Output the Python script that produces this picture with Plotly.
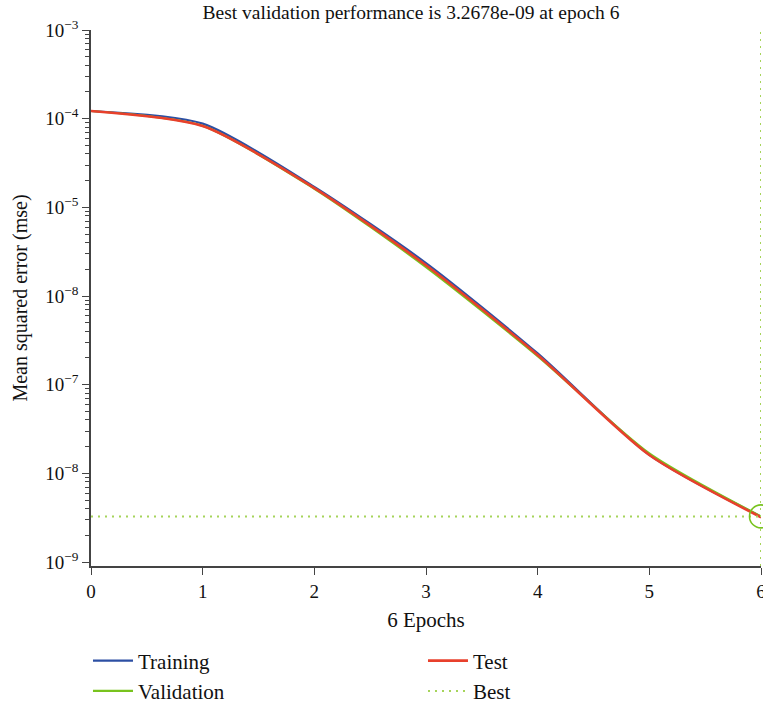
import plotly.graph_objects as go

epochs = [0, 1, 2, 3, 4, 5, 6]
training = [1.22e-4, 8.8e-5, 1.70e-5, 2.35e-6, 2.25e-7, 1.62e-8, 3.25e-9]
validation = [1.22e-4, 8.3e-5, 1.62e-5, 2.12e-6, 2.10e-7, 1.68e-8, 3.2678e-9]
test = [1.22e-4, 8.26e-5, 1.65e-5, 2.22e-6, 2.16e-7, 1.61e-8, 3.2e-9]
best_epoch = 6
best_value = 3.2678e-9

ytick_vals = [1e-9, 1e-8, 1e-7, 1e-6, 1e-5, 1e-4, 1e-3]
ytick_text = ["10<sup>−9</sup>", "10<sup>−8</sup>", "10<sup>−7</sup>", "10<sup>−8</sup>",
              "10<sup>−5</sup>", "10<sup>−4</sup>", "10<sup>−3</sup>"]
minor_vals = [k * 10.0 ** e for e in range(-9, -3) for k in range(2, 10)]

FONT = "Liberation Serif"
BLUE = "#2c4fa3"
GREEN = "#78c31e"
RED = "#e8402c"
BEST = "#a6d45a"
SMOOTH = 0.7

fig = go.Figure()
fig.add_trace(go.Scatter(x=epochs, y=training, mode="lines", name="Training",
                         line=dict(color=BLUE, width=2.2, shape="spline", smoothing=SMOOTH),
                         legend="legend"))
fig.add_trace(go.Scatter(x=epochs, y=validation, mode="lines", name="Validation",
                         line=dict(color=GREEN, width=2.2, shape="spline", smoothing=SMOOTH),
                         legend="legend"))
fig.add_trace(go.Scatter(x=epochs, y=test, mode="lines", name="Test",
                         line=dict(color=RED, width=2.6, shape="spline", smoothing=SMOOTH),
                         legend="legend2"))
fig.add_trace(go.Scatter(x=[epochs[0], best_epoch], y=[best_value, best_value], mode="lines",
                         name="Best", line=dict(color=BEST, width=2, dash="2px,5px"),
                         legend="legend2"))
fig.add_shape(type="line", x0=best_epoch, x1=best_epoch, xref="x", y0=0, y1=1, yref="y domain",
              line=dict(color=BEST, width=2, dash="2px,5px"))
fig.add_trace(go.Scatter(x=[best_epoch], y=[best_value], mode="markers", showlegend=False,
                         marker=dict(symbol="circle-open", size=23, color=GREEN,
                                     line=dict(width=1.6, color=GREEN)),
                         cliponaxis=False))

fig.update_layout(
    width=763, height=712,
    margin=dict(l=91, r=2, t=30, b=146, autoexpand=False),
    paper_bgcolor="white", plot_bgcolor="white",
    font=dict(family=FONT, size=19, color="#111"),
    title=dict(text="Best validation performance is 3.2678e-09 at epoch 6",
               x=411 / 763, xanchor="center", y=1 - 12 / 712, yanchor="middle",
               font=dict(family=FONT, size=19.5, color="#111")),
    xaxis=dict(range=[0, 6], tickvals=epochs, ticks="outside", ticklen=7, tickwidth=1.3,
               tickcolor="#444", showline=True, linecolor="#444", linewidth=1.5,
               showgrid=False, zeroline=False, ticklabeloverflow="allow",
               title=dict(text="6 Epochs", font=dict(size=21), standoff=12),
               tickfont=dict(size=19)),
    yaxis=dict(type="log", range=[-9.045, -3], tickvals=ytick_vals, ticktext=ytick_text,
               ticks="outside", ticklen=7, tickwidth=1.3, tickcolor="#444",
               showline=True, linecolor="#444", linewidth=1.5, showgrid=False, zeroline=False,
               ticklabeloverflow="allow",
               minor=dict(tickvals=minor_vals, ticks="outside", ticklen=4, tickwidth=1.2,
                          tickcolor="#444", showgrid=False),
               title=dict(text="Mean squared error (mse)", font=dict(size=20), standoff=12),
               tickfont=dict(size=19)),
    legend=dict(x=-0.0045, y=-0.139, xanchor="left", yanchor="top", orientation="v",
                bgcolor="rgba(0,0,0,0)", font=dict(family=FONT, size=21), tracegroupgap=0,
                itemwidth=40),
    legend2=dict(x=0.4955, y=-0.139, xanchor="left", yanchor="top", orientation="v",
                 bgcolor="rgba(0,0,0,0)", font=dict(family=FONT, size=21), tracegroupgap=0,
                 itemwidth=40),
)

fig.write_html("out.html", config={"displayModeBar": False},
               post_script="document.body.style.margin='0';")
